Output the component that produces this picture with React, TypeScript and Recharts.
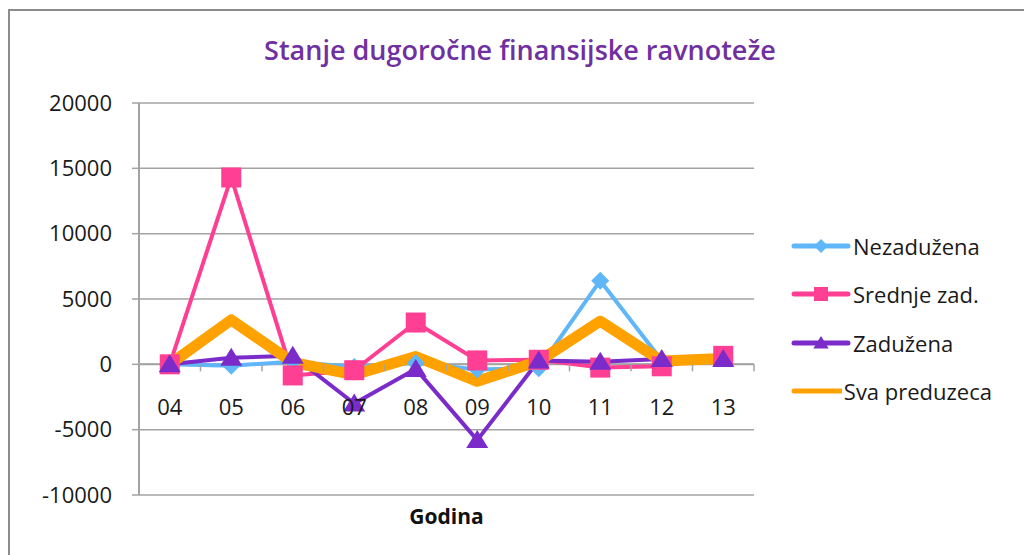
import { LineChart, Line, XAxis, YAxis, CartesianGrid, Legend, ReferenceLine } from "recharts";

const years = ["04", "05", "06", "07", "08", "09", "10", "11", "12", "13"];
const nezaduzena = [0, -100, 200, -200, 100, -400, -300, 6400, 300, 500];
const srednjeZad = [0, 14300, -850, -450, 3200, 300, 350, -250, -150, 650];
const zaduzena = [0, 500, 650, -3000, -350, -5800, 300, 200, 400, 400];
const svaPreduzeca = [0, 3400, 150, -800, 600, -1300, 250, 3300, 250, 450];
const yTicks = [-10000, -5000, 0, 5000, 10000, 15000, 20000];
const seriesOrder = ["nezaduzena", "srednjeZad", "zaduzena", "svaPreduzeca"];

const data = years.map((year, i) => ({
  year,
  nezaduzena: nezaduzena[i],
  srednjeZad: srednjeZad[i],
  zaduzena: zaduzena[i],
  svaPreduzeca: svaPreduzeca[i],
}));

const FONT = "'Open Sans', sans-serif";
const Y_MIN = -10000;
const Y_MAX = 20000;
const PLOT_TOP = 103;
const PLOT_BOTTOM = 495;
// horizontal axis crosses at 0, like the Excel original
const ZERO_SHIFT = ((PLOT_BOTTOM - PLOT_TOP) * (0 - Y_MIN)) / (Y_MAX - Y_MIN);
const BAND = 61.5;

const BLUE = "#5fb6f8";
const PINK = "#ff3f94";
const PURPLE = "#7a2bc9";
const ORANGE = "#ffa200";
const GRID = "#a3a3a3";

function Diamond({ cx, cy, r, color }: any) {
  return <path d={`M${cx},${cy - r}L${cx + r},${cy}L${cx},${cy + r}L${cx - r},${cy}Z`} fill={color} />;
}
function Square({ cx, cy, r, color }: any) {
  return <rect x={cx - r} y={cy - r} width={r * 2} height={r * 2} fill={color} />;
}
function Triangle({ cx, cy, r, color }: any) {
  return <path d={`M${cx},${cy - r}L${cx + r * 1.1},${cy + r * 0.8}L${cx - r * 1.1},${cy + r * 0.8}Z`} fill={color} />;
}

const markers: Record<string, any> = { nezaduzena: Diamond, srednjeZad: Square, zaduzena: Triangle };

function YearTick({ x, y, payload, index }: any) {
  const zy = y - ZERO_SHIFT;
  return (
    <g>
      <line x1={x - BAND / 2} x2={x - BAND / 2} y1={zy} y2={zy + 7} stroke={GRID} strokeWidth={1.5} />
      {index === years.length - 1 && (
        <line x1={x + BAND / 2} x2={x + BAND / 2} y1={zy} y2={zy + 7} stroke={GRID} strokeWidth={1.5} />
      )}
      <text x={x} y={zy + 43} dy="0.35em" textAnchor="middle" fill="#1a1a1a" fontSize={22} fontFamily={FONT}>
        {payload.value}
      </text>
    </g>
  );
}

function LegendBox({ payload }: any) {
  const items = [...(payload || [])].sort(
    (a: any, b: any) => seriesOrder.indexOf(a.dataKey) - seriesOrder.indexOf(b.dataKey)
  );
  return (
    <div style={{ fontFamily: FONT, fontSize: 22, color: "#1a1a1a" }}>
      {items.map((p: any) => {
        const M = markers[p.dataKey];
        return (
          <div key={p.dataKey} style={{ height: 48.3, display: "flex", alignItems: "center" }}>
            <svg width={60} height={24} style={{ marginLeft: 29 }}>
              <line x1={3} x2={57} y1={12} y2={12} stroke={p.color} strokeWidth={5} strokeLinecap="round" />
              {M && <M cx={30} cy={12} r={7} color={p.color} />}
            </svg>
            <span style={{ marginLeft: 2, whiteSpace: "nowrap" }}>{p.value}</span>
          </div>
        );
      })}
    </div>
  );
}

const dotFor = (key: string, r: number, color: string) => (p: any) => {
  const M = markers[key];
  return <M key={`${key}-${p.index}`} cx={p.cx} cy={p.cy} r={r} color={color} />;
};

export default function App() {
  return (
    <div style={{ position: "absolute", left: 0, top: 0, width: 1024, height: 555, background: "#fff", overflow: "hidden" }}>
      <div
        style={{
          position: "absolute",
          left: 8,
          top: 9,
          width: 1040,
          height: 560,
          border: "2px solid #8c8c8c",
        }}
      />
      <div
        style={{
          position: "absolute",
          left: 0,
          top: 31,
          width: 1040,
          textAlign: "center",
          fontFamily: FONT,
          fontSize: 27,
          fontWeight: 600,
          color: "#7030a0",
        }}
      >
        Stanje dugoročne finansijske ravnoteže
      </div>
      <div style={{ position: "absolute", left: 0, top: 0 }}>
        <LineChart width={1024} height={555} data={data} margin={{ top: PLOT_TOP, right: 40, bottom: 20, left: 0 }}>
          <CartesianGrid vertical={false} stroke={GRID} strokeWidth={1.5} />
          <XAxis
            dataKey="year"
            axisLine={false}
            tickLine={false}
            tickSize={0}
            tickMargin={0}
            interval={0}
            height={40}
            padding={{ left: BAND / 2, right: BAND / 2 }}
            tick={<YearTick />}
            label={{
              value: "Godina",
              position: "insideTop",
              offset: 14,
              fill: "#111",
              fontSize: 21,
              fontWeight: 700,
              fontFamily: FONT,
            }}
          />
          <YAxis
            width={139}
            domain={[Y_MIN, Y_MAX]}
            ticks={yTicks}
            interval={0}
            axisLine={{ stroke: GRID, strokeWidth: 2 }}
            tickLine={{ stroke: GRID, strokeWidth: 1.5 }}
            tickSize={7}
            tickMargin={20}
            tick={{ fill: "#1a1a1a", fontSize: 22, fontFamily: FONT }}
          />
          <ReferenceLine y={0} stroke={GRID} strokeWidth={2} />
          <Legend
            layout="vertical"
            align="right"
            verticalAlign="middle"
            width={230}
            wrapperStyle={{ top: 222, left: 762 }}
            content={<LegendBox />}
          />
          <Line
            dataKey="nezaduzena"
            name="Nezadužena"
            stroke={BLUE}
            strokeWidth={4}
            strokeLinejoin="round"
            dot={dotFor("nezaduzena", 9, BLUE)}
            activeDot={false}
            isAnimationActive={false}
          />
          <Line
            dataKey="srednjeZad"
            name="Srednje zad."
            stroke={PINK}
            strokeWidth={4}
            strokeLinejoin="round"
            dot={dotFor("srednjeZad", 10, PINK)}
            activeDot={false}
            isAnimationActive={false}
          />
          <Line
            dataKey="zaduzena"
            name="Zadužena"
            stroke={PURPLE}
            strokeWidth={4}
            strokeLinejoin="round"
            dot={dotFor("zaduzena", 10, PURPLE)}
            activeDot={false}
            isAnimationActive={false}
          />
          <Line
            dataKey="svaPreduzeca"
            name="Sva preduzeca"
            stroke={ORANGE}
            strokeWidth={11}
            strokeLinejoin="round"
            strokeLinecap="round"
            dot={false}
            activeDot={false}
            isAnimationActive={false}
          />
        </LineChart>
      </div>
    </div>
  );
}
